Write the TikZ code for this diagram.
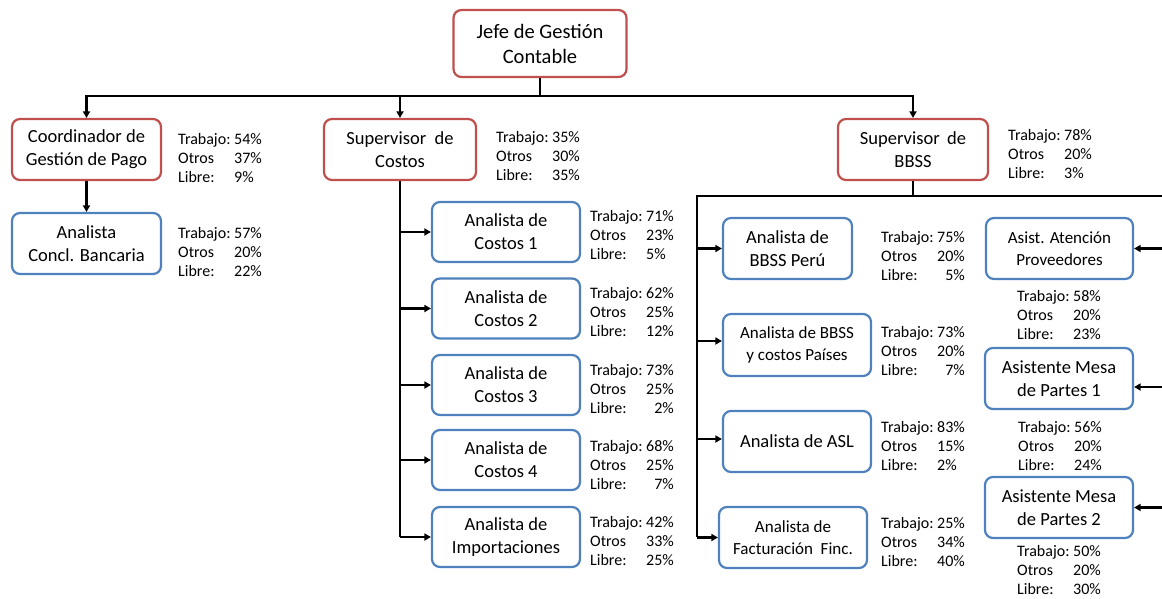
\documentclass[tikz,border=0pt]{standalone}
\usepackage{fontspec}
\setmainfont{Carlito}
\usetikzlibrary{arrows.meta}
\definecolor{redline}{HTML}{C0504D}
\definecolor{blueline}{HTML}{4F81BD}

\tikzset{
  box/.style={draw, line width=2.2pt, rounded corners=8pt, fill=white, align=center,
    inner sep=0pt, font=\fontsize{18.5}{23}\selectfont},
  boss/.style={box, draw=redline},
  staff/.style={box, draw=blueline},
  small/.style={font=\fontsize{17}{21.5}\selectfont},
  link/.style={line width=2.2pt, black},
  arr/.style={link, -{Triangle[length=6.5pt,width=7pt]}},
  stats/.style={anchor=west, inner sep=0pt, yshift=-2.5pt, font=\fontsize{16}{19}\selectfont},
}
% workload shares: value column right- or left-aligned
\newcommand\loadR[3]{\begin{tabular}{@{}l@{\ }r@{}}Trabajo: & #1\%\\ Otros & #2\%\\ Libre: & #3\%\end{tabular}}
\newcommand\loadL[3]{\begin{tabular}{@{}l@{\ }l@{}}Trabajo: & #1\%\\ Otros & #2\%\\ Libre: & #3\%\end{tabular}}

\begin{document}
\begin{tikzpicture}[x=1pt, y=-1pt]
\path[use as bounding box] (0,0) rectangle (1162,599);
\clip (0,0) rectangle (1162,599);

% top level
\node[boss, minimum width=173pt, minimum height=67pt, font=\fontsize{20.5}{25}\selectfont] (jefe) at (540,43.5) {Jefe de Gestión\\Contable};

\node[boss, minimum width=149pt, minimum height=61pt] (coord) at (86.5,149.5) {Coordinador de\\Gestión de Pago};
\node[boss, minimum width=152pt, minimum height=61pt] (supc) at (400,149.5) {Supervisor\hspace{0.45em}de\\Costos};
\node[boss, minimum width=150pt, minimum height=61pt] (supb) at (913,149.5) {Supervisor\hspace{0.4em}de\\BBSS};

% payments branch
\node[staff, minimum width=149pt, minimum height=61pt] (concl) at (86.5,243.5) {Analista\\Concl. Bancaria};

% costs branch
\node[staff, minimum width=148pt, minimum height=60pt] (ac1) at (506,232) {Analista de\\Costos 1};
\node[staff, minimum width=148pt, minimum height=60pt] (ac2) at (506,308.5) {Analista de\\Costos 2};
\node[staff, minimum width=148pt, minimum height=60pt] (ac3) at (506,385) {Analista de\\Costos 3};
\node[staff, minimum width=148pt, minimum height=60pt] (ac4) at (506,460) {Analista de\\Costos 4};
\node[staff, minimum width=148pt, minimum height=60pt] (imp) at (506,537) {Analista de\\Importaciones};

% goods and services branch
\node[staff, minimum width=129pt, minimum height=61pt] (peru) at (787.5,248.5) {Analista de\\BBSS Perú};
\node[staff, small, minimum width=148pt, minimum height=62pt] (paises) at (797,345) {Analista de BBSS\\y costos Países};
\node[staff, minimum width=148pt, minimum height=61pt] (asl) at (797,441.5) {Analista de ASL};
\node[staff, small, minimum width=148pt, minimum height=61pt] (fact) at (793,537.5) {Analista de\\Facturación\hspace{0.45em}Finc.};
\node[staff, small, minimum width=147pt, minimum height=61pt] (aten) at (1059.5,248.5) {Asist. Atención\\Proveedores};
\node[staff, minimum width=148pt, minimum height=61pt] (mesa1) at (1059,378.5) {Asistente Mesa\\de Partes 1};
\node[staff, minimum width=148pt, minimum height=61pt] (mesa2) at (1059,507.5) {Asistente Mesa\\de Partes 2};

% workload figures
\node[stats] (s-coord) at (178,157) {\loadL{54}{37}{9}};
\node[stats] (s-concl) at (178,251) {\loadR{57}{20}{22}};
\node[stats] (s-supc) at (496,155) {\loadL{35}{30}{35}};
\node[stats] (s-supb) at (1008,153) {\loadL{78}{20}{3}};
\node[stats] (s-ac1) at (590,234) {\loadL{71}{23}{5}};
\node[stats] (s-ac2) at (590,311) {\loadR{62}{25}{12}};
\node[stats] (s-ac3) at (590,388) {\loadR{73}{25}{2}};
\node[stats] (s-ac4) at (590,464) {\loadR{68}{25}{7}};
\node[stats] (s-imp) at (590,540) {\loadR{42}{33}{25}};
\node[stats] (s-peru) at (881,255) {\loadR{75}{20}{5}};
\node[stats] (s-paises) at (881,350) {\loadR{73}{20}{7}};
\node[stats] (s-asl) at (881,445) {\loadL{83}{15}{2}};
\node[stats] (s-fact) at (881,541) {\loadR{25}{34}{40}};
\node[stats] (s-aten) at (1017,314) {\loadR{58}{20}{23}};
\node[stats] (s-mesa1) at (1018,445) {\loadR{56}{20}{24}};
\node[stats] (s-mesa2) at (1017,569) {\loadR{50}{20}{30}};

% connectors from the head of department
\coordinate (bus) at (540,96);
\draw[link] (jefe.south) -- (bus);
\draw[arr] (bus) -| (coord.north);
\draw[arr] (bus) -| (supc.north);
\draw[arr] (bus) -| (supb.north);

\draw[arr] (coord.south) -- (concl.north);

% costs spine
\coordinate (cbus) at (400,537);
\draw[link] (supc.south) -- (cbus);
\foreach \n in {ac1,ac2,ac3,ac4,imp}
  \draw[arr] (supc.south |- \n.west) -- (\n.west);

% goods and services spine
\coordinate (bhub) at (913,196);
\coordinate (lbus) at (697,196);
\coordinate (rbus) at (1170,196);
\draw[link] (supb.south) -- (bhub);
\draw[link] ([xshift=-1.1pt]lbus) -- (rbus) -- (1170,520);
\draw[link] (lbus) -- (697,537);
\coordinate (pa) at (697,341);
\coordinate (as) at (697,439);
\draw[arr] (lbus |- peru.west) -- (peru.west);
\draw[arr] (pa) -- (paises.west |- pa);
\draw[arr] (as) -- (asl.west |- as);
\draw[arr] (lbus |- fact.west) -- (fact.west);
\coordinate (m1) at (1170,387);
\draw[arr] (rbus |- aten.east) -- (aten.east);
\draw[arr] (m1) -- (mesa1.east |- m1);
\draw[arr] (rbus |- mesa2.east) -- (mesa2.east);
\end{tikzpicture}
\end{document}
